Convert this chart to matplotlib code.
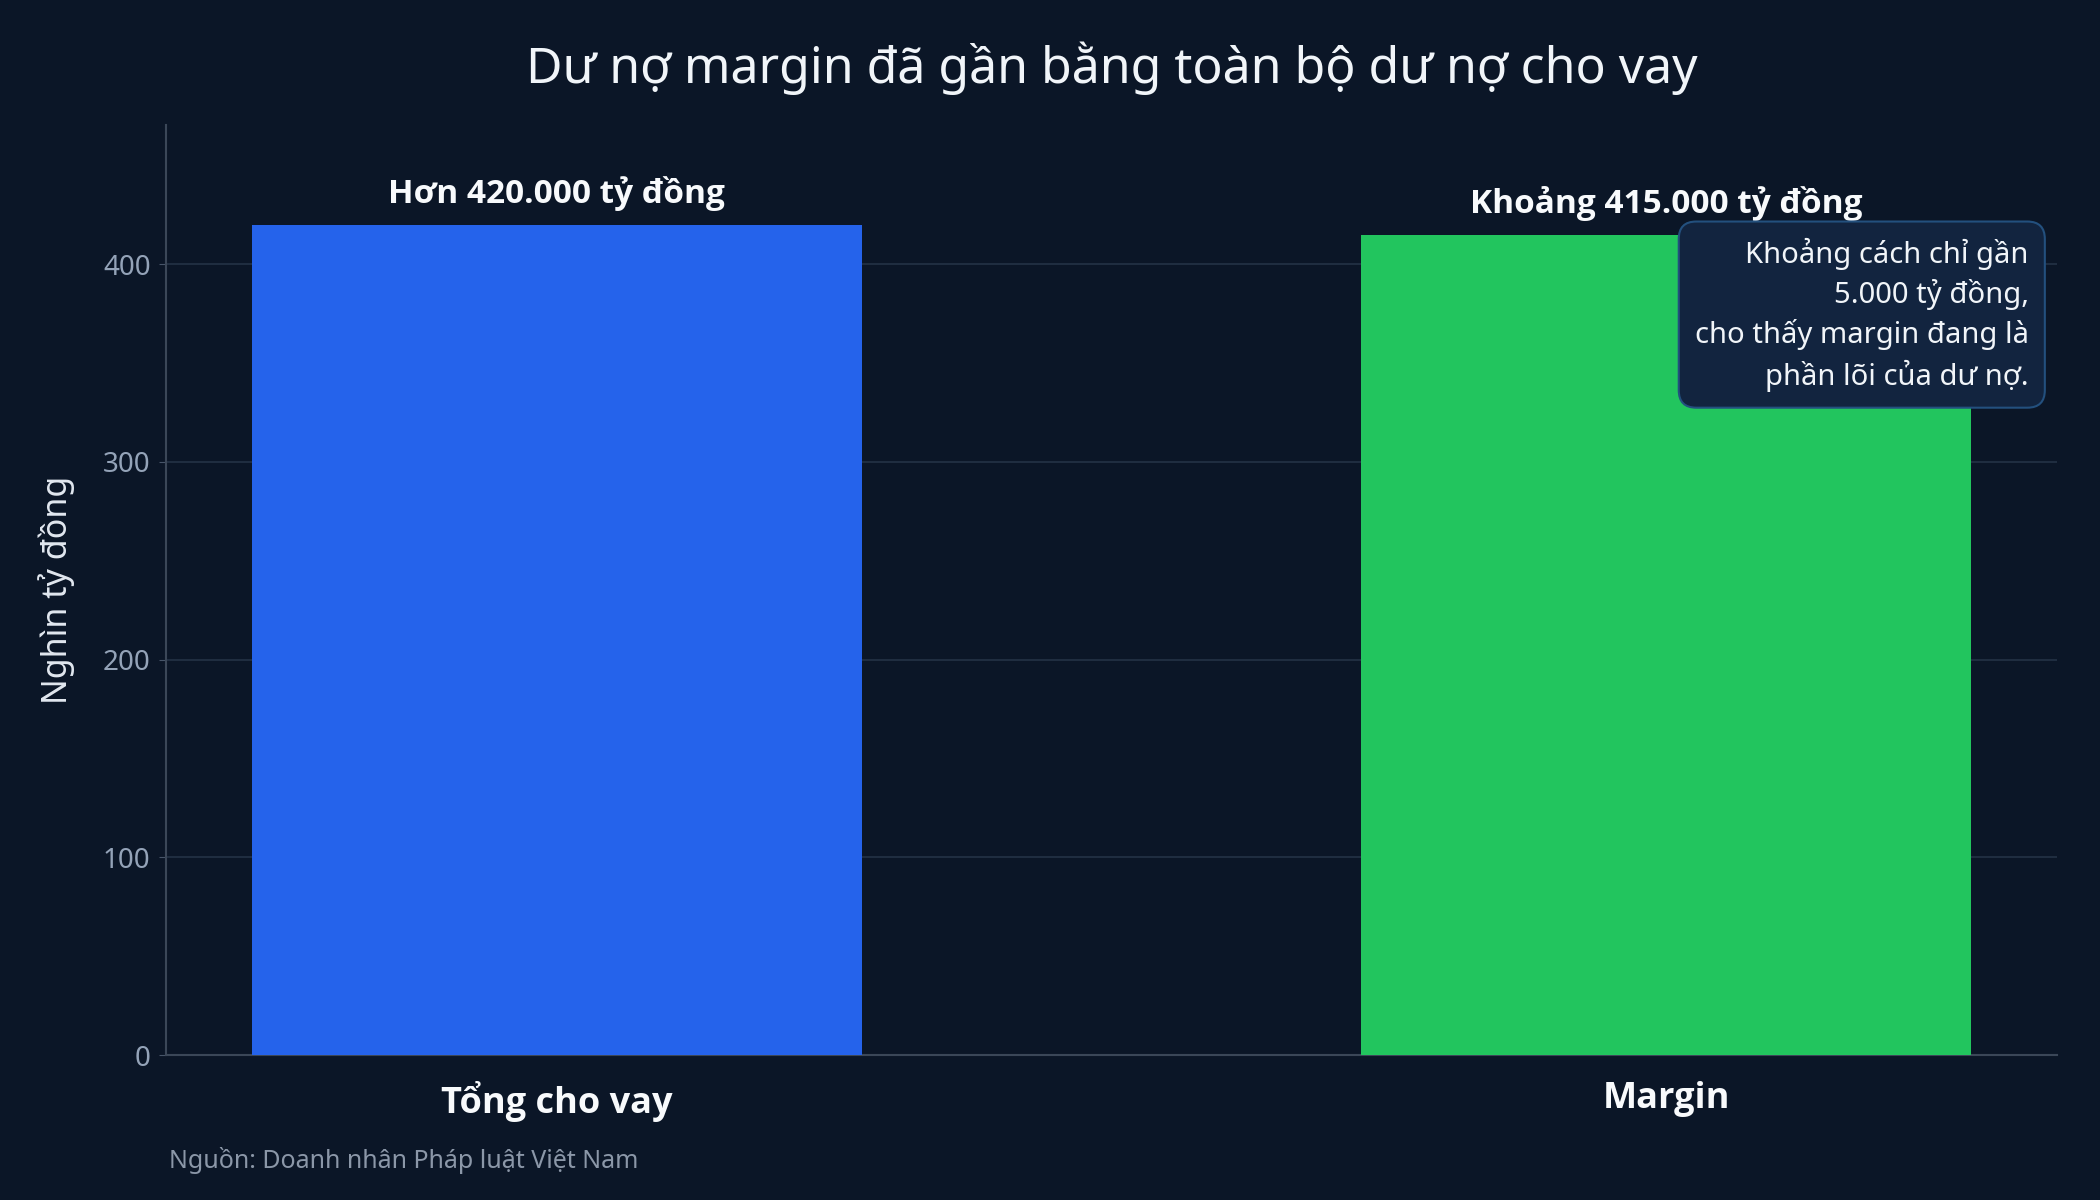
import matplotlib
matplotlib.use("Agg")
import matplotlib.pyplot as plt

plt.rcParams['font.family'] = ['Noto Sans', 'DejaVu Sans']
BOLD = ['Open Sans', 'DejaVu Sans']

categories = ["Tổng cho vay", "Margin"]
values = [420, 415]
bar_labels = ["Hơn 420.000 tỷ đồng", "Khoảng 415.000 tỷ đồng"]
colors = ["#2563eb", "#22c55e"]
yticks = [0, 100, 200, 300, 400]
title = "Dư nợ margin đã gần bằng toàn bộ dư nợ cho vay"
ylabel = "Nghìn tỷ đồng"
source = "Nguồn: Doanh nhân Pháp luật Việt Nam"
note = "Khoảng cách chỉ gần\n5.000 tỷ đồng,\ncho thấy margin đang là\nphần lõi của dư nợ."

BG = "#0b1627"
fig = plt.figure(figsize=(21, 12), dpi=100, facecolor=BG)
ax = fig.add_axes([0.079, 0.1208, 0.9006, 0.775])
ax.set_facecolor(BG)

x = list(range(len(categories)))
bars = ax.bar(x, values, width=0.55, color=colors, zorder=3)
ax.set_ylim(0, max(values) * 1.12)
ax.set_yticks(yticks)
ax.set_xticks(x)
ax.set_xticklabels(categories, fontsize=26, fontweight='bold', color='#f8fafc', family=BOLD)
ax.tick_params(axis='x', length=0, pad=19)
ax.tick_params(axis='y', labelsize=20, labelcolor='#94a3b8', color='#475569', length=5, pad=6)
ax.yaxis.grid(True, color='#243246', linewidth=1.2, zorder=0)
ax.set_axisbelow(True)
for s in ['top', 'right']:
    ax.spines[s].set_visible(False)
for s in ['left', 'bottom']:
    ax.spines[s].set_color('#3b4758')
    ax.spines[s].set_linewidth(1.5)

for b, lab in zip(bars, bar_labels):
    ax.annotate(lab, (b.get_x() + b.get_width() / 2, b.get_height()),
                xytext=(0, 10), textcoords='offset points', ha='center', va='bottom',
                fontsize=24, fontweight='bold', color='#f8fafc', family=BOLD)

ax.set_ylabel(ylabel, fontsize=24.5, color='#e2e8f0', labelpad=20)
ax.set_title(title, fontsize=36, color='#f1f5f9', pad=30)

ax.text(0.985, 0.879, note, transform=ax.transAxes, ha='right', va='top',
        fontsize=21, color='#f1f5f9', linespacing=1.38, zorder=5,
        bbox=dict(boxstyle='round,pad=0.55,rounding_size=0.6', facecolor='#12243f',
                  edgecolor='#23507e', linewidth=1.5))

fig.text(0.0805, 0.033, source, fontsize=18, color='#8b97a8', ha='left', va='center')

fig.savefig("out.png", dpi=100, facecolor=BG)
